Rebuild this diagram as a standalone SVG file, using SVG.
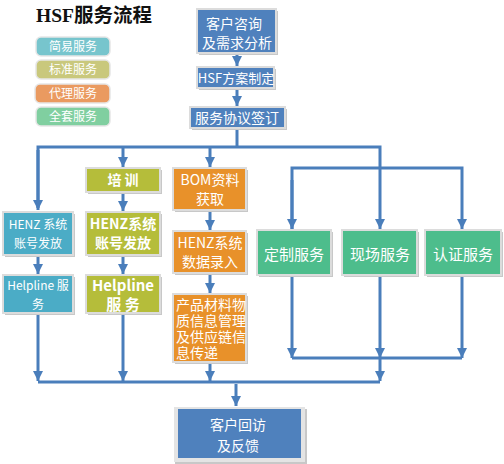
<svg xmlns="http://www.w3.org/2000/svg" width="504" height="464" viewBox="0 0 504 464">
<style>
.t{font-family:"Noto Sans CJK SC","Liberation Sans",sans-serif;fill:#fff;text-anchor:middle}
.b{font-weight:bold}
.box{stroke:#dcdcdc;stroke-width:2}
.sh{fill:#c8c8c8}
.blue{fill:#4f81bd}.teal{fill:#4bacc6}.olive{fill:#b5bd3a}.orange{fill:#e8912a}.green{fill:#4dbd8c}
.leg{stroke:#e6e6e6;stroke-width:1.5}
.c{fill:none;stroke:#4a7ebb;stroke-width:3}
</style>
<defs>
<marker id="ah" viewBox="0 0 10 10" refX="10" refY="5" markerWidth="10" markerHeight="10" markerUnits="userSpaceOnUse" orient="auto"><path d="M0,0 L10,5 L0,10 Z" fill="#4a7ebb"/></marker>
</defs>
<rect width="504" height="464" fill="#fff"/>
<text x="94" y="22" style="font-family:'Liberation Serif','Noto Sans CJK SC',serif;font-weight:bold;font-size:19.5px;fill:#111;text-anchor:middle">HSF服务流程</text>

<g id="legend">
<rect x="36" y="37" width="74" height="19" rx="5" fill="#77c5cd" class="leg"/>
<text x="73" y="51" class="t" font-size="12">简易服务</text>
<rect x="36" y="60" width="74" height="19" rx="5" fill="#c9c87c" class="leg"/>
<text x="73" y="74" class="t" font-size="12">标准服务</text>
<rect x="35" y="84" width="75" height="19" rx="5" fill="#ea9a60" class="leg"/>
<text x="73" y="98" class="t" font-size="12">代理服务</text>
<rect x="36" y="107" width="74" height="19" rx="5" fill="#80cfa0" class="leg"/>
<text x="73" y="121" class="t" font-size="12">全套服务</text>
</g>

<g id="connectors">
<path class="c" d="M237 53 V66" marker-end="url(#ah)"/>
<path class="c" d="M237 88 V106" marker-end="url(#ah)"/>
<path class="c" d="M237 128 V147"/>
<path class="c" d="M38 208 V147 H380 V229" marker-end="url(#ah)"/>
<path class="c" d="M38 150 V210" marker-end="url(#ah)"/>
<path class="c" d="M123 147 V167" marker-end="url(#ah)"/>
<path class="c" d="M210 147 V167" marker-end="url(#ah)"/>
<path class="c" d="M292 229 V168 H462 V229" marker-end="url(#ah)"/>
<path class="c" d="M292 180 V229" marker-end="url(#ah)"/>
<path class="c" d="M38 255 V274" marker-end="url(#ah)"/>
<path class="c" d="M38 313 V381" marker-end="url(#ah)"/>
<path class="c" d="M123 192 V211" marker-end="url(#ah)"/>
<path class="c" d="M123 255 V274" marker-end="url(#ah)"/>
<path class="c" d="M123 313 V381" marker-end="url(#ah)"/>
<path class="c" d="M210 210 V230" marker-end="url(#ah)"/>
<path class="c" d="M210 273 V293" marker-end="url(#ah)"/>
<path class="c" d="M210 362 V381" marker-end="url(#ah)"/>
<path class="c" d="M292 275 V358" marker-end="url(#ah)"/>
<path class="c" d="M380 275 V358" marker-end="url(#ah)"/>
<path class="c" d="M462 275 V358" marker-end="url(#ah)"/>
<path class="c" d="M292 358 H462"/>
<path class="c" d="M380 358 V381" marker-end="url(#ah)"/>
<path class="c" d="M38 382 H380"/>
<path class="c" d="M236 384 V406" marker-end="url(#ah)"/>
</g>

<g id="n1"><rect x="199" y="11" width="79" height="44" class="sh"/><rect x="197" y="9" width="79" height="44" class="box blue"/>
<text x="234" y="29" class="t" font-size="14">客户咨询</text><text x="237" y="48" class="t" font-size="14">及需求分析</text></g>
<g id="n2"><rect x="199" y="69" width="77" height="21" class="sh"/><rect x="197" y="67" width="77" height="21" class="box blue"/>
<text x="236" y="83" class="t" font-size="13">HSF方案制定</text></g>
<g id="n3"><rect x="192" y="109" width="95" height="21" class="sh"/><rect x="190" y="107" width="95" height="21" class="box blue"/>
<text x="237" y="123" class="t" font-size="14">服务协议签订</text></g>

<g id="n4"><rect x="5" y="214" width="70" height="43" class="sh"/><rect x="3" y="212" width="70" height="43" class="box teal"/>
<text x="38" y="229" class="t" font-size="12">HENZ 系统</text><text x="38" y="248" class="t" font-size="12">账号发放</text></g>
<g id="n5"><rect x="5" y="277" width="70" height="38" class="sh"/><rect x="3" y="275" width="70" height="38" class="box teal"/>
<text x="38" y="290" class="t" font-size="12">Helpline 服</text><text x="38" y="309" class="t" font-size="12">务</text></g>

<g id="n6"><rect x="88" y="170" width="74" height="24" class="sh"/><rect x="86" y="168" width="74" height="24" class="box olive"/>
<text x="123" y="185" class="t b" font-size="14">培 训</text></g>
<g id="n7"><rect x="88" y="214" width="74" height="43" class="sh"/><rect x="86" y="212" width="74" height="43" class="box olive"/>
<text x="123" y="229" class="t b" font-size="14">HENZ系统</text><text x="123" y="248" class="t b" font-size="14">账号发放</text></g>
<g id="n8"><rect x="88" y="277" width="74" height="38" class="sh"/><rect x="86" y="275" width="74" height="38" class="box olive"/>
<text x="123" y="291" class="t b" font-size="15">Helpline</text><text x="123" y="310" class="t b" font-size="15">服 务</text></g>

<g id="n9"><rect x="175" y="170" width="73" height="42" class="sh"/><rect x="173" y="168" width="73" height="42" class="box orange"/>
<text x="210" y="185" class="t" font-size="14">BOM资料</text><text x="210" y="204" class="t" font-size="14">获取</text></g>
<g id="n10"><rect x="175" y="233" width="73" height="42" class="sh"/><rect x="173" y="231" width="73" height="42" class="box orange"/>
<text x="210" y="248" class="t" font-size="14">HENZ系统</text><text x="210" y="267" class="t" font-size="14">数据录入</text></g>
<g id="n11"><rect x="175" y="296" width="73" height="68" class="sh"/><rect x="173" y="294" width="73" height="68" class="box orange"/>
<text class="t" font-size="14" style="text-anchor:start"><tspan x="176" y="310">产品材料物</tspan><tspan x="176" y="326">质信息管理</tspan><tspan x="176" y="342">及供应链信</tspan><tspan x="176" y="358">息传递</tspan></text></g>

<g id="n12"><rect x="259" y="232" width="74" height="45" class="sh"/><rect x="257" y="230" width="74" height="45" class="box green"/>
<text x="294" y="260" class="t" font-size="15">定制服务</text></g>
<g id="n13"><rect x="344" y="232" width="75" height="45" class="sh"/><rect x="342" y="230" width="75" height="45" class="box green"/>
<text x="380" y="260" class="t" font-size="15">现场服务</text></g>
<g id="n14"><rect x="427" y="232" width="76" height="45" class="sh"/><rect x="425" y="230" width="76" height="45" class="box green"/>
<text x="463" y="260" class="t" font-size="15">认证服务</text></g>

<g id="n15"><rect x="175" y="409" width="132" height="55" class="sh"/><rect x="174" y="407" width="131" height="55" fill="#e4e4e4"/><rect x="178" y="409" width="123" height="49" class="blue"/>
<text x="238" y="430" class="t" font-size="14">客户回访</text><text x="238" y="451" class="t" font-size="14">及反馈</text></g>
</svg>
